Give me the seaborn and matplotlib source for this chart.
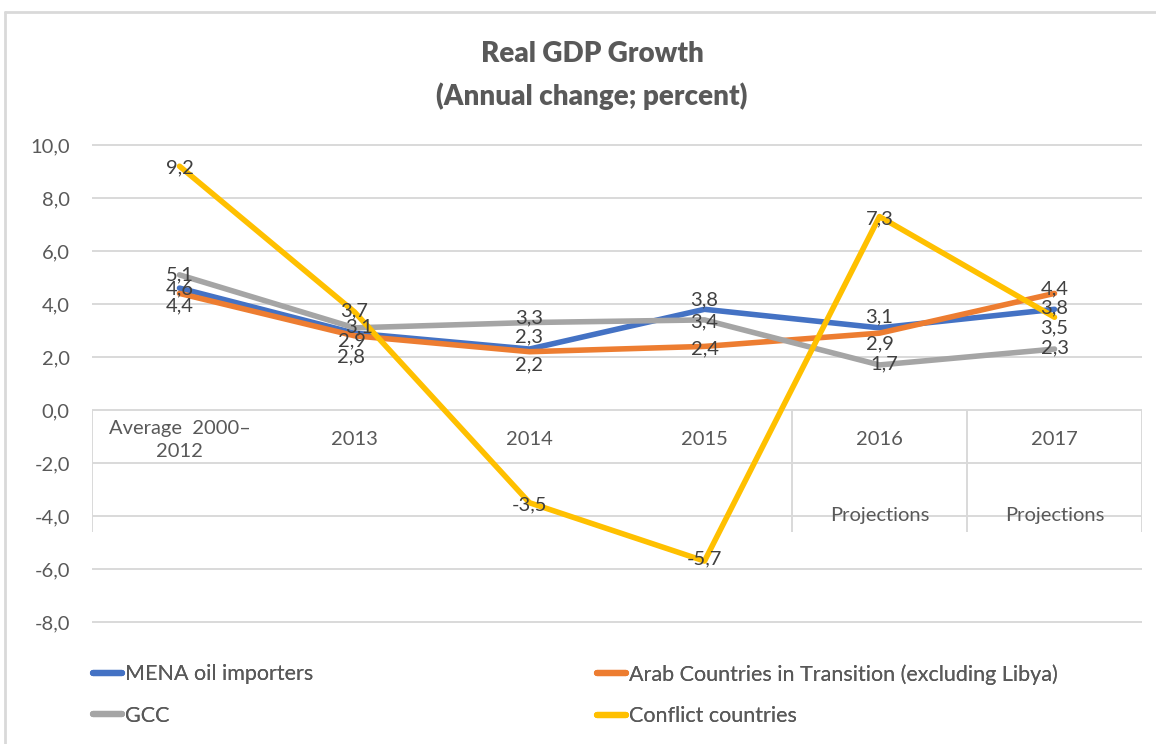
import pandas as pd
import matplotlib.pyplot as plt
import seaborn as sns
from matplotlib.lines import Line2D

# Chart data
categories = ["Average  2000–\n2012", "2013", "2014", "2015", "2016", "2017"]
sub_labels = ["", "", "", "", "Projections", "Projections"]
mena_importers = [4.6, 2.9, 2.3, 3.8, 3.1, 3.8]
arab_transition = [4.4, 2.8, 2.2, 2.4, 2.9, 4.4]
gcc = [5.1, 3.1, 3.3, 3.4, 1.7, 2.3]
conflict = [9.2, 3.7, -3.5, -5.7, 7.3, 3.5]
y_ticks = [-8, -6, -4, -2, 0, 2, 4, 6, 8, 10]

series_names = ["MENA oil importers", "Arab Countries in Transition (excluding Libya)",
                "GCC", "Conflict countries"]
series_values = [mena_importers, arab_transition, gcc, conflict]
colors = ["#4472C4", "#ED7D31", "#A5A5A5", "#FFC000"]

# label nudges in pixels (dx, dy down), mimicking Excel's placement
label_nudge = [
    [(0, 1), (-3, 8), (0, -12), (0, -9), (0, -11), (0, -1)],
    [(0, 12), (-3, 21), (0, 13), (0, 2), (0, 11), (0, -5)],
    [(0, 0), (5, -1), (0, -5), (0, 2), (5, -1), (0, -1)],
    [(0, 2), (0, -1), (0, 2), (0, -2), (0, 2), (0, 11)],
]

rows = []
for name, vals in zip(series_names, series_values):
    for i, v in enumerate(vals):
        rows.append({"pos": i, "value": v, "series": name})
df = pd.DataFrame(rows)

sns.set_style("white")
plt.rcParams["font.family"] = ["Lato", "DejaVu Sans"]

grid_c = "#D9D9D9"
text_c = "#595959"
px = 0.72  # points per pixel at dpi 100
fs = 14.5

fig = plt.figure(figsize=(11.56, 7.44), dpi=100)
ax = fig.add_axes([92 / 1156, 122 / 744, 1050 / 1156, 477 / 744])

# gridlines and category box
ax.hlines(y_ticks, -0.5, 5.5, color=grid_c, lw=1.4, clip_on=False, zorder=0)
ax.vlines([-0.5, 3.5, 4.5, 5.5], -4.6, 0, color=grid_c, lw=1.4, zorder=0)

sns.lineplot(data=df, x="pos", y="value", hue="series", hue_order=series_names,
             palette=colors, lw=4, sort=False, ax=ax, legend=False,
             solid_capstyle="round", zorder=3)

# data labels
for s, vals in enumerate(series_values):
    for i, v in enumerate(vals):
        dx, dy = label_nudge[s][i]
        ax.annotate(f"{v:.1f}".replace(".", ","), (i, v),
                    xytext=(dx * px, -dy * px), textcoords="offset points",
                    ha="center", va="center", fontsize=fs, color="#404040", zorder=4)

# category labels
for i, lab in enumerate(categories):
    ax.text(i, -1.13, lab, ha="center", va="center", fontsize=fs, color=text_c,
            linespacing=1.45)
    if sub_labels[i]:
        ax.text(i, -4.0, sub_labels[i], ha="center", va="center", fontsize=fs, color=text_c)

ax.set_xlim(-0.5, 5.5)
ax.set_ylim(-8, 10)
ax.set_xticks([])
ax.set_yticks(y_ticks)
ax.set_yticklabels([f"{t:.1f}".replace(".", ",") for t in y_ticks])
ax.tick_params(axis="y", length=0, pad=16, labelsize=fs, labelcolor=text_c)
ax.set_xlabel("")
ax.set_ylabel("")
sns.despine(ax=ax, left=True, bottom=True)

fig.text(592 / 1156, 1 - 54 / 744, "Real GDP Growth", ha="center", va="center",
         fontsize=20, fontweight="heavy", color=text_c)
fig.text(592 / 1156, 1 - 96 / 744, "(Annual change; percent)", ha="center", va="center",
         fontsize=20, fontweight="heavy", color=text_c)

# legend: two columns placed separately
leg_kw = dict(frameon=False, fontsize=15.5, labelcolor=text_c, handlelength=1.35,
              handletextpad=0.15, labelspacing=1.0, borderaxespad=0, borderpad=0,
              loc="center left")
for col, keys in enumerate([[0, 2], [1, 3]]):
    handles = [Line2D([], [], color=colors[k], lw=4.5, solid_capstyle="round") for k in keys]
    labels = [series_names[k] for k in keys]
    x0 = [93, 597][col] / 1156
    leg = fig.legend(handles, labels, bbox_to_anchor=(x0, 1 - 695 / 744), **leg_kw)
    fig.add_artist(leg)

# chart area border
fig.add_artist(Line2D([5 / 1156, 5 / 1156], [0, 1 - 12 / 744], color=grid_c, lw=2,
                      transform=fig.transFigure))
fig.add_artist(Line2D([5 / 1156, 1], [1 - 12 / 744, 1 - 12 / 744], color=grid_c, lw=2,
                      transform=fig.transFigure))

plt.savefig("out.png", dpi=100)
plt.close()
